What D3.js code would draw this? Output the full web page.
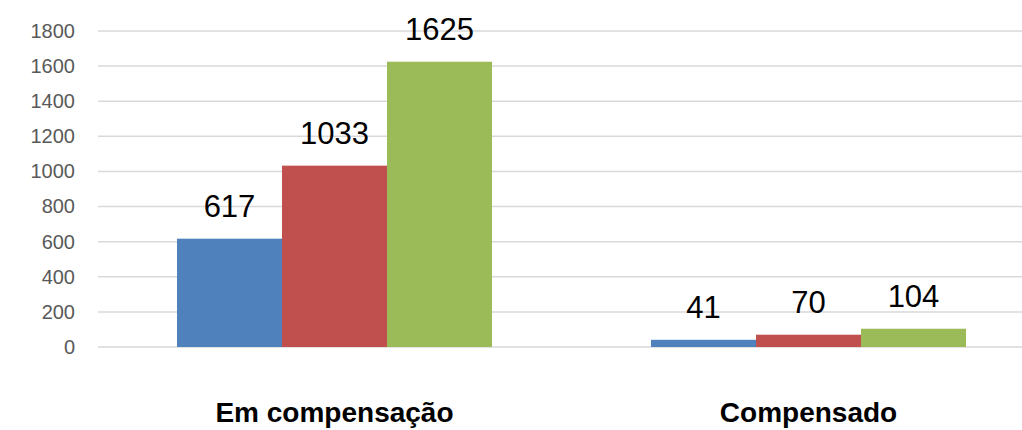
<!DOCTYPE html>
<html>
<head>
<meta charset="utf-8">
<script src="https://cdn.jsdelivr.net/npm/d3@7"></script>
<style>
  html, body { margin: 0; padding: 0; background: #fff; }
  svg { display: block; }
</style>
</head>
<body>
<svg id="chart" width="1022" height="430"></svg>
<script>
const categories = ["Em compensação", "Compensado"];
const seriesNames = ["Série 1", "Série 2", "Série 3"];
const seriesA = [617, 41];
const seriesB = [1033, 70];
const seriesC = [1625, 104];
const seriesColors = ["#4F81BD", "#C0504D", "#9BBB59"];
const yTicks = [0, 200, 400, 600, 800, 1000, 1200, 1400, 1600, 1800];

const seriesValues = [seriesA, seriesB, seriesC];
const svg = d3.select("#chart");

const y = d3.scaleLinear().domain([0, 1800]).range([347, 31]);
const x0 = d3.scaleBand().domain(categories).range([97.5, 1045.5])
  .paddingInner(0.3354).paddingOuter(0.1677);
const x1 = d3.scaleBand().domain(seriesNames).range([0, x0.bandwidth()]);

// gridlines
svg.append("g").selectAll("line").data(yTicks).join("line")
  .attr("x1", 98).attr("x2", 1022)
  .attr("y1", d => y(d)).attr("y2", d => y(d))
  .attr("stroke", "#d9d9d9").attr("stroke-width", 1.5);

// y axis labels
const yAxis = d3.axisLeft(y).tickValues(yTicks).tickFormat(d3.format("d")).tickSize(0).tickPadding(0);
const gy = svg.append("g").attr("transform", "translate(75,0)").call(yAxis);
gy.select(".domain").remove();
gy.selectAll("text")
  .attr("fill", "#595959")
  .style("font-family", "'Liberation Sans', Arial, sans-serif")
  .style("font-size", "20px");

// bars
const data = [];
categories.forEach((c, i) => {
  seriesNames.forEach((s, j) => {
    data.push({ cat: c, ser: s, val: seriesValues[j][i], color: seriesColors[j] });
  });
});

svg.append("g").selectAll("rect").data(data).join("rect")
  .attr("x", d => x0(d.cat) + x1(d.ser))
  .attr("width", x1.bandwidth())
  .attr("y", d => y(d.val))
  .attr("height", d => y(0) - y(d.val))
  .attr("fill", d => d.color);

// data labels
svg.append("g").selectAll("text").data(data).join("text")
  .attr("x", d => x0(d.cat) + x1(d.ser) + x1.bandwidth() / 2)
  .attr("y", d => y(d.val) - 21.5)
  .attr("text-anchor", "middle")
  .style("font-family", "'Liberation Sans', Arial, sans-serif")
  .style("font-size", "31px")
  .attr("fill", "#000")
  .text(d => d.val);

// category labels
svg.append("g").selectAll("text").data(categories).join("text")
  .attr("x", d => x0(d) + x0.bandwidth() / 2)
  .attr("y", 422)
  .attr("text-anchor", "middle")
  .style("font-family", "'Liberation Sans', Arial, sans-serif")
  .style("font-size", "28px")
  .style("font-weight", "bold")
  .attr("fill", "#000")
  .text(d => d);
</script>
</body>
</html>
